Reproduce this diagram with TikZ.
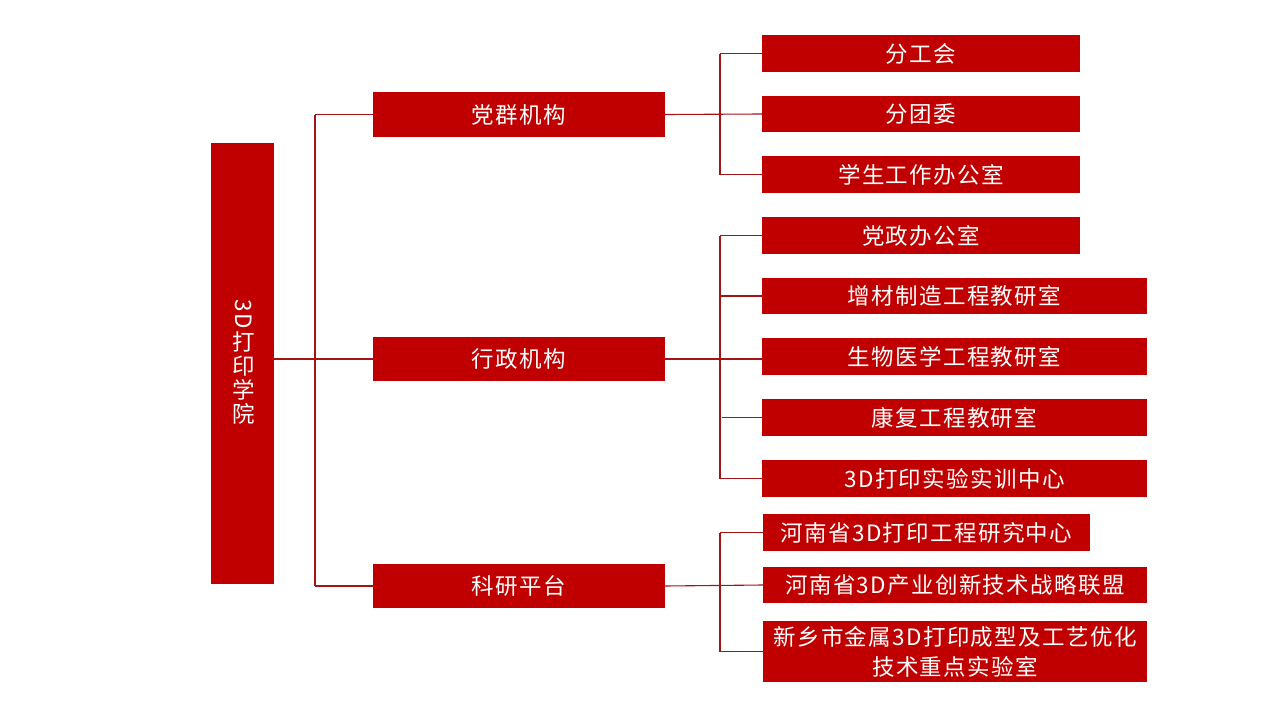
\documentclass[tikz,border=0pt]{standalone}
\usepackage{fontspec}
\setmainfont{Noto Sans CJK SC}[LetterSpace=6]
\definecolor{boxred}{RGB}{192,0,0}
\definecolor{linered}{RGB}{165,20,20}
\tikzset{
  orgbox/.style={fill=boxred, text=white, inner sep=0pt, anchor=center, font=\fontsize{22.5}{26}\selectfont, align=center},
  roottxt/.style={text=white, inner sep=0pt, anchor=center, font=\fontsize{22.5}{24}\selectfont, align=center},
  link/.style={draw=linered, line width=1.1pt}
}
\begin{document}
\begin{tikzpicture}[x=1pt,y=-1pt]
\useasboundingbox (0,0) rectangle (1280,720);
% root
\node[orgbox, minimum width=63, minimum height=441] (root) at (242.5,363.5) {};
\node[roottxt, rotate=-90] (root3d) at (244,314) {3D};
\node[roottxt] (rootcjk) at (244,377.5) {打\\印\\学\\院};
% level 1
\node[orgbox, minimum width=292, minimum height=45] (dq) at (519,114.5) {党群机构};
\node[orgbox, minimum width=292, minimum height=44] (xz) at (519,359) {行政机构};
\node[orgbox, minimum width=292, minimum height=44] (ky) at (519,586) {科研平台};
% level 2, group 1
\node[orgbox, minimum width=318, minimum height=37] (fgh) at (921,53.5) {分工会};
\node[orgbox, minimum width=318, minimum height=36] (fty) at (921,114) {分团委};
\node[orgbox, minimum width=318, minimum height=37] (xs) at (921,174.5) {学生工作办公室};
% group 2
\node[orgbox, minimum width=318, minimum height=37] (dz) at (921,235.5) {党政办公室};
\node[orgbox, minimum width=385, minimum height=36] (zc) at (954.5,296) {增材制造工程教研室};
\node[orgbox, minimum width=385, minimum height=37] (sw) at (954.5,356.5) {生物医学工程教研室};
\node[orgbox, minimum width=385, minimum height=37] (kf) at (954.5,417.5) {康复工程教研室};
\node[orgbox, minimum width=385, minimum height=37] (sy) at (954.5,478.5) {3D打印实验实训中心};
% group 3
\node[orgbox, minimum width=327, minimum height=37] (hn1) at (926.5,532.5) {河南省3D打印工程研究中心};
\node[orgbox, minimum width=384, minimum height=36] (hn2) at (955,585) {河南省3D产业创新技术战略联盟};
\node[orgbox, minimum width=384, minimum height=61, font=\fontsize{22.5}{30}\selectfont] (xx) at (955,651.5) {新乡市金属3D打印成型及工艺优化\\技术重点实验室};
% buses
\coordinate (b1) at (315,360);
\coordinate (b2) at (720,0);
% root connectors
\draw[link] (root.east |- xz.west) -- (xz.west);
\draw[link] (b1 |- dq.west) -- (b1 |- ky.west);
\draw[link] (b1 |- dq.west) -- (dq.west);
\draw[link] (b1 |- ky.west) -- (ky.west);
% group 1
\draw[link] (dq.east) -- (fty.west);
\draw[link] (b2 |- fgh.west) -- (b2 |- xs.west);
\draw[link] (b2 |- fgh.west) -- (fgh.west);
\draw[link] (b2 |- xs.west) -- (xs.west);
% group 2
\draw[link] (xz.east) -- (xz.east -| sw.west);
\draw[link] (b2 |- dz.west) -- (b2 |- sy.west);
\draw[link] (b2 |- dz.west) -- (dz.west);
\draw[link] (b2 |- zc.west) -- (zc.west);
\draw[link] ([xshift=2pt]b2 |- kf.west) -- (kf.west);
\draw[link] (b2 |- sy.west) -- (sy.west);
% group 3
\draw[link] (ky.east) -- (hn2.west);
\draw[link] (b2 |- hn1.west) -- (b2 |- xx.west);
\draw[link] (b2 |- hn1.west) -- (hn1.west);
\draw[link] (b2 |- xx.west) -- (xx.west);
\end{tikzpicture}
\end{document}
